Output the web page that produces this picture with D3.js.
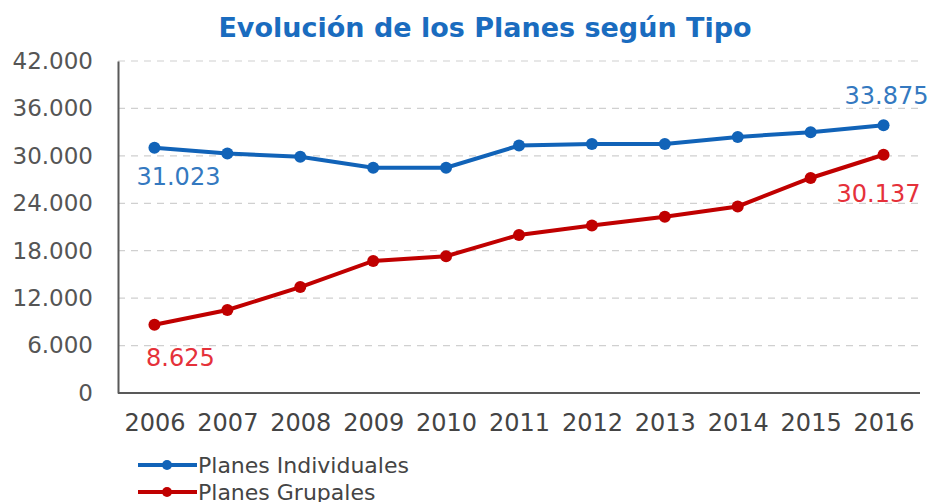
<!DOCTYPE html>
<html>
<head>
<meta charset="utf-8">
<script src="https://cdn.jsdelivr.net/npm/d3@7"></script>
<style>
  body { margin: 0; background: #fff; }
  svg text { font-family: "DejaVu Sans", Verdana, sans-serif; }
</style>
</head>
<body>
<svg id="chart" width="932" height="502"></svg>
<script>
// data
var years = ["2006","2007","2008","2009","2010","2011","2012","2013","2014","2015","2016"];
var individuales = [31023, 30300, 29900, 28500, 28500, 31300, 31500, 31500, 32400, 33000, 33875];
var grupales = [8625, 10500, 13400, 16700, 17300, 20000, 21200, 22300, 23600, 27200, 30137];
var yTicks = [0, 6000, 12000, 18000, 24000, 30000, 36000, 42000];
var seriesNames = ["Planes Individuales", "Planes Grupales"];

var blue = "#1163b8", red = "#c00000";
var blueLbl = "#3479c0", redLbl = "#e5313a";

var svg = d3.select("#chart");
var mLeft = 118, mRight = 920, mTop = 61, mBottom = 393;

var x = d3.scalePoint().domain(years).range([mLeft, mRight]).padding(0.5);
var y = d3.scaleLinear().domain([0, 42000]).range([mBottom, mTop]);

var fmt = function(d) { return d3.format(",")(d).replace(/,/g, "."); };

// title
svg.append("text")
  .attr("x", 485).attr("y", 37)
  .attr("text-anchor", "middle")
  .attr("font-size", 27).attr("font-weight", "bold")
  .attr("fill", "#1a6cbf")
  .text("Evolución de los Planes según Tipo");

// grid
svg.append("g").selectAll("line")
  .data(yTicks.filter(function(d) { return d > 0; }))
  .enter().append("line")
  .attr("x1", mLeft).attr("x2", mRight)
  .attr("y1", function(d) { return y(d); })
  .attr("y2", function(d) { return y(d); })
  .attr("stroke", "#d0d0d0").attr("stroke-width", 1.2)
  .attr("stroke-dasharray", "7,6");

// y axis
var yAxis = svg.append("g")
  .attr("transform", "translate(" + mLeft + ",0)")
  .call(d3.axisLeft(y).tickValues(yTicks).tickSize(0).tickPadding(25).tickFormat(fmt));
yAxis.select(".domain").attr("stroke", "#595959").attr("stroke-width", 2);
yAxis.selectAll("text").attr("font-size", 23).attr("fill", "#555").attr("font-family", "DejaVu Sans");

// x axis
var xAxis = svg.append("g")
  .attr("transform", "translate(0," + mBottom + ")")
  .call(d3.axisBottom(x).tickSize(0).tickPadding(21));
xAxis.select(".domain").attr("d", "M" + mLeft + ",0H" + mRight).attr("stroke", "#595959").attr("stroke-width", 2);
xAxis.selectAll("text").attr("font-size", 24).attr("fill", "#444").attr("font-family", "DejaVu Sans");

var line = d3.line()
  .x(function(d, i) { return x(years[i]); })
  .y(function(d) { return y(d); });

function drawSeries(vals, color) {
  svg.append("path").datum(vals)
    .attr("d", line).attr("fill", "none")
    .attr("stroke", color).attr("stroke-width", 4);
  svg.append("g").selectAll("circle")
    .data(vals).enter().append("circle")
    .attr("cx", function(d, i) { return x(years[i]); })
    .attr("cy", function(d) { return y(d); })
    .attr("r", 6).attr("fill", color);
}
drawSeries(individuales, blue);
drawSeries(grupales, red);

// data labels (first and last)
var n = years.length - 1;
function label(val, i, dx, dy, color) {
  svg.append("text")
    .attr("x", x(years[i]) + dx).attr("y", y(val) + dy)
    .attr("text-anchor", "middle")
    .attr("font-size", 24).attr("fill", color)
    .text(fmt(val));
}
label(individuales[0], 0, 24, 37, blueLbl);
label(grupales[0], 0, 26, 41, redLbl);
label(individuales[n], n, 3, -21, blueLbl);
label(grupales[n], n, -5, 47, redLbl);

// legend
var leg = svg.append("g").selectAll("g")
  .data(seriesNames).enter().append("g")
  .attr("transform", function(d, i) { return "translate(138," + (465 + i * 27) + ")"; });
leg.append("line").attr("x1", 0).attr("x2", 59)
  .attr("stroke", function(d, i) { return i ? red : blue; }).attr("stroke-width", 4);
leg.append("circle").attr("cx", 29).attr("r", 5)
  .attr("fill", function(d, i) { return i ? red : blue; });
leg.append("text").attr("x", 60).attr("dy", "0.35em")
  .attr("font-size", 22).attr("fill", "#444")
  .text(function(d) { return d; });
</script>
</body>
</html>
